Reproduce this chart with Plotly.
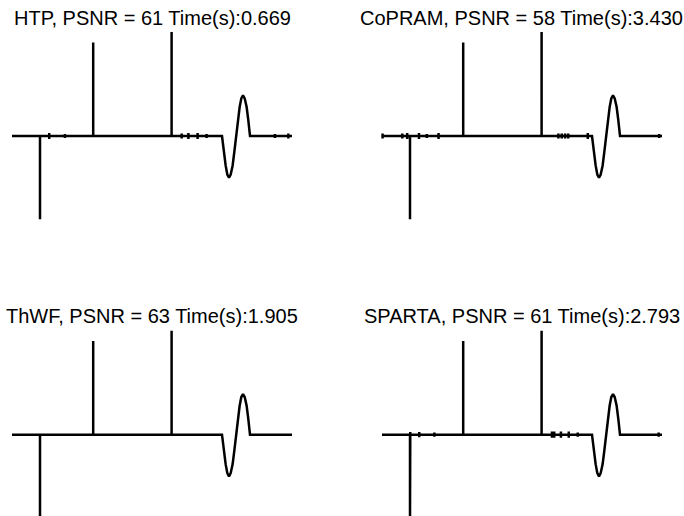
import plotly.graph_objects as go

# ---- data ----
methods = ["HTP", "CoPRAM", "ThWF", "SPARTA"]
psnr = [61, 58, 63, 61]
times = ["0.669", "3.430", "1.905", "2.793"]

# true spikes (sample position, amplitude)
spike_pos = [10, 29, 57]
spike_amp = [-0.8, 0.9, 1.0]

# smooth one-cycle wave segment
wave_x = [75, 75.6, 76.3, 76.9, 77.5, 78.1, 78.8, 79.4, 80, 80.6, 81.3, 81.9, 82.5, 83.1, 83.8, 84.4, 85]
wave_y = [0, -0.153, -0.283, -0.370, -0.40, -0.370, -0.283, -0.153, 0, 0.150, 0.278, 0.362, 0.39, 0.362, 0.278, 0.150, 0]

# small spurious coefficients per method (position, amplitude)
htp_tick_pos = [13.3, 18.9, 60.6, 63.0, 66.3, 69.5, 93.9, 98.7]
htp_tick_amp = [0.03, 0.02, 0.025, 0.03, 0.03, 0.02, 0.02, 0.025]
copram_tick_pos = [0.2, 7.25, 9.0, 13.2, 16.0, 20.2, 63.0, 64.2, 65.4, 66.5, 73.5, 99.0]
copram_tick_amp = [0.025, 0.025, 0.03, 0.03, 0.02, 0.03, 0.025, 0.025, 0.025, 0.025, 0.03, 0.02]
thwf_tick_pos = []
thwf_tick_amp = []
sparta_tick_pos = [10.1, 13.3, 18.7, 60.7, 61.5, 63.9, 66.7, 69.9, 98.8]
sparta_tick_amp = [0.025, 0.025, 0.02, 0.03, 0.03, 0.03, 0.03, 0.02, 0.02]

ticks = [(htp_tick_pos, htp_tick_amp), (copram_tick_pos, copram_tick_amp),
         (thwf_tick_pos, thwf_tick_amp), (sparta_tick_pos, sparta_tick_amp)]

N_START, N_END = 0, 100


def build_signal(tpos, tamp):
    events = []
    for p, a in zip(spike_pos, spike_amp):
        events.append((p, "spike", a))
    for p, a in zip(tpos, tamp):
        events.append((p, "tick", a))
    events.append((wave_x[0], "wave", None))
    events.sort(key=lambda e: e[0])
    xs, ys = [N_START], [0]
    for p, kind, a in events:
        if kind == "spike":
            xs += [p, p, p]
            ys += [0, a, 0]
        elif kind == "tick":
            xs += [p, p, p, p]
            ys += [0, a, -a, 0]
        else:
            xs += wave_x
            ys += wave_y
    xs.append(N_END)
    ys.append(0)
    return xs, ys


fig = go.Figure()
axis_names = ["", "2", "3", "4"]
for i, (tp, ta) in enumerate(ticks):
    xs, ys = build_signal(tp, ta)
    fig.add_trace(go.Scatter(x=xs, y=ys, mode="lines",
                             line=dict(color="black", width=2.5),
                             xaxis="x" + axis_names[i], yaxis="y" + axis_names[i],
                             showlegend=False, hoverinfo="skip"))

left_range = [-12 / 2.8, (342 - 12) / 2.8]
right_range = [(342 - 382) / 2.8, (684 - 382) / 2.8]
top_range = [-(258 - 136) / 104, 136 / 104]
bot_range = [-(516 - 434.7) / 104, (434.7 - 258) / 104]

ax = dict(visible=False, showgrid=False, zeroline=False, fixedrange=True)
fig.update_layout(
    width=684, height=516,
    margin=dict(l=0, r=0, t=0, b=0),
    paper_bgcolor="white", plot_bgcolor="white",
    hovermode=False,
    xaxis=dict(ax, domain=[0, 0.5], range=left_range),
    yaxis=dict(ax, domain=[0.5, 1], range=top_range),
    xaxis2=dict(ax, domain=[0.5, 1], range=right_range),
    yaxis2=dict(ax, domain=[0.5, 1], range=top_range),
    xaxis3=dict(ax, domain=[0, 0.5], range=left_range),
    yaxis3=dict(ax, domain=[0, 0.5], range=bot_range),
    xaxis4=dict(ax, domain=[0.5, 1], range=right_range),
    yaxis4=dict(ax, domain=[0, 0.5], range=bot_range),
)

title_x = [152 / 684, 521.5 / 684, 152 / 684, 521.5 / 684]
title_y = [(516 - 18.5) / 516, (516 - 18.5) / 516, (516 - 316) / 516, (516 - 316) / 516]
for i, m in enumerate(methods):
    fig.add_annotation(text=f"{m}, PSNR = {psnr[i]} Time(s):{times[i]}",
                       x=title_x[i], y=title_y[i], xref="paper", yref="paper",
                       xanchor="center", yanchor="middle", showarrow=False,
                       font=dict(family="Liberation Sans, Arial", size=20, color="black"))

fig.write_html("out.html",
               config={"displayModeBar": False, "staticPlot": True},
               post_script="document.body.style.margin='0';document.body.style.overflow='hidden';")
